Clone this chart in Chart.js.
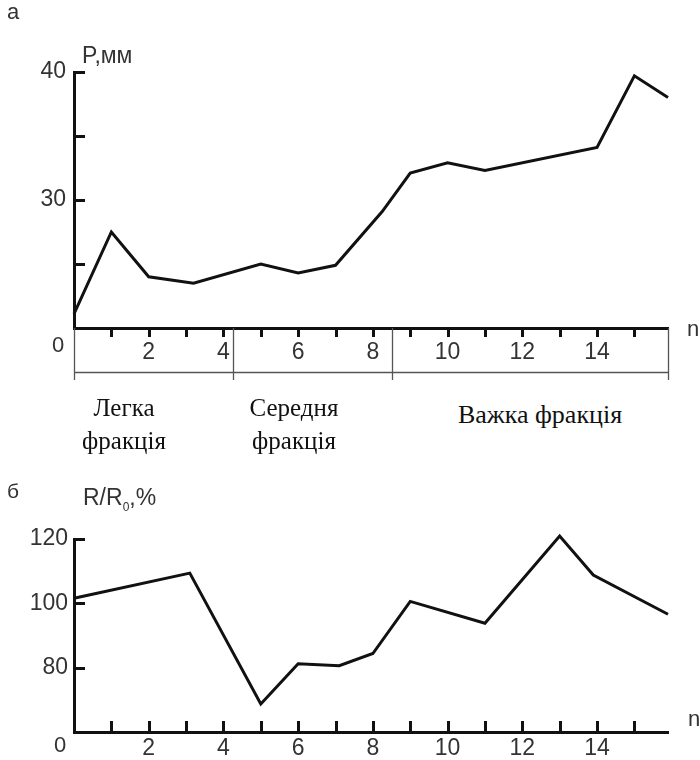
<!DOCTYPE html>
<html>
<head>
<meta charset="utf-8">
<script src="https://cdn.jsdelivr.net/npm/chart.js@4"></script>
<style>
  body { margin: 0; background: #fff; }
  #wrap { position: relative; width: 700px; height: 760px; overflow: hidden; }
  canvas { position: absolute; left: 0; }
  .t { position: absolute; line-height: 1; white-space: nowrap; font-family: "Liberation Sans", Arial, sans-serif; color: #333; }
  .s { position: absolute; line-height: 1; white-space: nowrap; font-family: "Liberation Serif", "Times New Roman", serif; color: #111; font-size: 25px; transform: translateX(-50%); }
</style>
</head>
<body>
<div id="wrap">
  <canvas id="chartA" width="700" height="400" style="top:0"></canvas>
  <canvas id="chartB" width="700" height="280" style="top:480px"></canvas>

  <div class="t" style="left:7px;top:1px;font-size:22px">а</div>
  <div class="t" style="left:82px;top:44px;font-size:23px">P,мм</div>
  <div class="t" style="left:52px;top:334px;font-size:22px">0</div>
  <div class="t" style="left:687px;top:318px;font-size:22px">n</div>

  <div class="s" style="left:124px;top:395px">Легка</div>
  <div class="s" style="left:124px;top:428px">фракція</div>
  <div class="s" style="left:294px;top:395px">Середня</div>
  <div class="s" style="left:294px;top:428px">фракція</div>
  <div class="s" style="left:540px;top:402px;font-size:26px">Важка фракція</div>

  <div class="t" style="left:7px;top:480px;font-size:21px">б</div>
  <div class="t" style="left:83px;top:486px;font-size:23px">R/R<sub style="font-size:12px">0</sub>,%</div>
  <div class="t" style="left:54px;top:734px;font-size:22px">0</div>
  <div class="t" style="left:688px;top:708px;font-size:22px">n</div>
</div>

<script>
// chart а: P, мм by fraction number n
const nA = [0, 1, 2, 3.2, 5, 6, 7, 8.25, 9, 10, 11, 14, 15, 15.9];
const pA = [21.1, 27.5, 24.0, 23.5, 25.0, 24.3, 24.9, 29.1, 32.1, 32.9, 32.3, 34.1, 39.7, 38.0];

// chart б: R/R0, %
const nB = [0, 3.1, 5, 6, 7.1, 8, 9, 11, 13, 13.9, 15.9];
const rB = [101.6, 109.4, 68.7, 81.2, 80.6, 84.4, 100.6, 93.8, 120.9, 108.8, 96.6];

// fraction boundaries along n (light / medium / heavy)
const fractionBounds = [0, 4.25, 8.5, 15.9];

const nMax = 15.9;
const labelFont = { family: "'Liberation Sans', Arial, sans-serif", size: 23 };

// inward / outward tick marks and the fraction table under chart а
const decor = {
  id: 'decor',
  afterDraw(chart, args, opts) {
    const ctx = chart.ctx;
    const x = chart.scales.x, y = chart.scales.y;
    const area = chart.chartArea;
    ctx.save();
    ctx.strokeStyle = '#111';
    ctx.lineWidth = 3;
    ctx.beginPath();
    y.ticks.forEach(t => {
      if (t.value <= y.min) return;
      const py = Math.round(y.getPixelForValue(t.value)) + 0.5;
      ctx.moveTo(area.left, py);
      ctx.lineTo(area.left + 11, py);
    });
    x.ticks.forEach(t => {
      if (t.value <= 0 || t.value > 15 || !Number.isInteger(t.value)) return;
      const px = Math.round(x.getPixelForValue(t.value)) + 0.5;
      ctx.moveTo(px, area.bottom);
      ctx.lineTo(px, area.bottom + opts.xTick);
    });
    ctx.stroke();

    if (opts.table) {
      ctx.strokeStyle = '#555';
      ctx.lineWidth = 1.3;
      ctx.beginPath();
      fractionBounds.forEach(b => {
        const px = Math.round(x.getPixelForValue(b)) + 0.5;
        ctx.moveTo(px, area.bottom);
        ctx.lineTo(px, area.bottom + 52);
      });
      ctx.moveTo(x.getPixelForValue(0), area.bottom + 44.5);
      ctx.lineTo(x.getPixelForValue(nMax), area.bottom + 44.5);
      ctx.stroke();
    }
    ctx.restore();
  }
};

function lineData(xs, ys) {
  return {
    datasets: [{
      data: xs.map((v, i) => ({ x: v, y: ys[i] })),
      borderColor: '#111',
      borderWidth: 3,
      pointRadius: 0,
      tension: 0,
      clip: false,
      borderJoinStyle: 'miter'
    }]
  };
}

const ctxA = document.getElementById('chartA').getContext('2d');
const ctxB = document.getElementById('chartB').getContext('2d');

const chartA = new Chart(ctxA, {
  type: 'line',
  data: lineData(nA, pA),
  plugins: [decor],
  options: {
    responsive: false,
    animation: false,
    layout: { padding: { top: 72, right: 32, left: 0, bottom: 0 } },
    plugins: {
      legend: { display: false },
      tooltip: { enabled: false },
      decor: { xTick: 9, table: true }
    },
    scales: {
      x: {
        type: 'linear',
        min: 0,
        max: nMax,
        afterFit: s => { s.height = 72; },
        grid: { display: true, drawOnChartArea: false, drawTicks: false },
        border: { color: '#111', width: 3 },
        ticks: {
          stepSize: 1,
          includeBounds: false,
          autoSkip: false,
          maxRotation: 0,
          padding: 11,
          color: '#333',
          font: labelFont,
          callback: v => (v > 0 && v <= 14 && v % 2 === 0) ? v : ''
        }
      },
      y: {
        min: 20,
        max: 40,
        afterFit: s => { s.width = 74; },
        grid: { display: true, drawOnChartArea: false, drawTicks: false },
        border: { color: '#111', width: 3 },
        ticks: {
          stepSize: 5,
          padding: 8,
          color: '#333',
          font: labelFont,
          callback: v => (v === 40 || v === 30) ? v : ''
        }
      }
    }
  }
});

const chartB = new Chart(ctxB, {
  type: 'line',
  data: lineData(nB, rB),
  plugins: [decor],
  options: {
    responsive: false,
    animation: false,
    layout: { padding: { top: 59, right: 32, left: 0, bottom: 0 } },
    plugins: {
      legend: { display: false },
      tooltip: { enabled: false },
      decor: { xTick: -11, table: false }
    },
    scales: {
      x: {
        type: 'linear',
        min: 0,
        max: nMax,
        afterFit: s => { s.height = 28; },
        grid: { display: true, drawOnChartArea: false, drawTicks: false },
        border: { color: '#111', width: 3 },
        ticks: {
          stepSize: 1,
          includeBounds: false,
          autoSkip: false,
          maxRotation: 0,
          padding: 3,
          color: '#333',
          font: labelFont,
          callback: v => (v > 0 && v <= 14 && v % 2 === 0) ? v : ''
        }
      },
      y: {
        min: 60,
        max: 120,
        afterFit: s => { s.width = 74; },
        grid: { display: true, drawOnChartArea: false, drawTicks: false },
        border: { color: '#111', width: 3 },
        ticks: {
          stepSize: 20,
          padding: 6,
          color: '#333',
          font: labelFont,
          callback: v => v > 60 ? v : ''
        }
      }
    }
  }
});
</script>
</body>
</html>
